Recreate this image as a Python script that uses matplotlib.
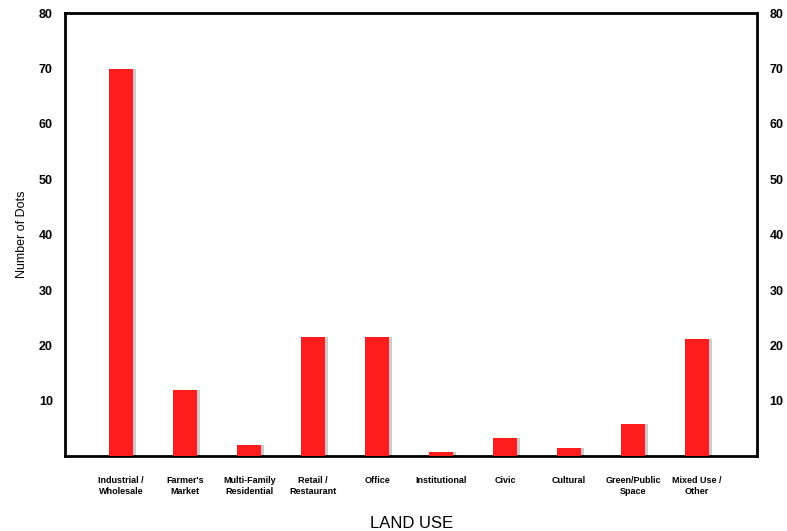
import numpy as np
import matplotlib.pyplot as plt

# land use categories and number of dots
categories = ['Industrial /\nWholesale', "Farmer's\nMarket", 'Multi-Family\nResidential',
              'Retail /\nRestaurant', 'Office', 'Institutional', 'Civic', 'Cultural',
              'Green/Public\nSpace', 'Mixed Use /\nOther']
dots = [70, 12, 2, 21.5, 21.5, 0.8, 3.3, 1.5, 5.8, 21.2]
yticks = [10, 20, 30, 40, 50, 60, 70, 80]

plt.rcParams['font.family'] = ['Liberation Sans', 'DejaVu Sans']

fig = plt.figure(figsize=(7.87, 5.31), dpi=100)
ax = fig.add_axes([0.083, 0.141, 0.879, 0.834])

x = np.arange(len(categories))
# light shadow behind bars
ax.bar(x + 0.04, dots, width=0.375, color='#555555', alpha=0.3, zorder=2)
ax.bar(x, dots, width=0.375, color='#ff1c1c', zorder=3)

ax.set_xlim(-0.875, 9.94)
ax.set_ylim(0, 80)
ax.set_yticks(yticks)
ax.set_yticklabels([str(v) for v in yticks], fontsize=9, fontweight='bold')
ax.set_xticks(x)
ax.set_xticklabels(categories, fontsize=6.5, fontweight='bold', linespacing=1.4)
ax.tick_params(axis='x', length=0, pad=14)
ax.tick_params(axis='y', length=0, pad=9, left=True, right=True,
               labelleft=True, labelright=True)

for s in ax.spines.values():
    s.set_linewidth(2)

ax.set_ylabel('Number of Dots', fontsize=9, labelpad=8)
ax.set_xlabel('LAND USE', fontsize=12, labelpad=14)

fig.savefig('out.png', dpi=100)
